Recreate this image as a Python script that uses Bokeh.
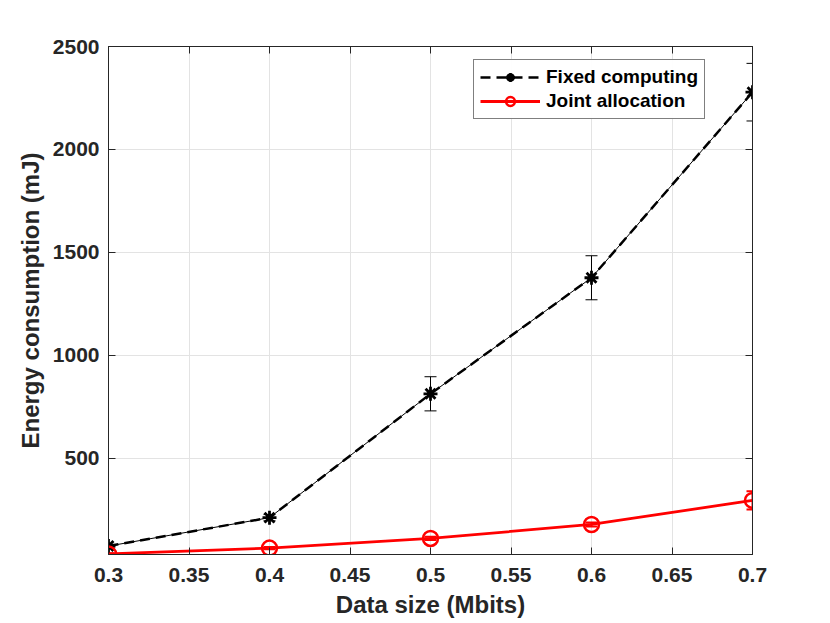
from bokeh.plotting import figure
from bokeh.models import (Range1d, LinearAxis, FixedTicker, Whisker, ColumnDataSource,
                          Legend, LegendItem, TeeHead)
from bokeh.embed import file_html
from bokeh.resources import INLINE

# ---- data ----
data_size = [0.3, 0.4, 0.5, 0.6, 0.7]
fixed_energy = [72, 210, 812, 1376, 2278]
fixed_err = [8, 15, 83, 107, 140]
joint_energy = [34, 62, 109, 177, 294]
joint_err = [3, 5, 8, 10, 44]
x_ticks = [0.3, 0.35, 0.4, 0.45, 0.5, 0.55, 0.6, 0.65, 0.7]
y_ticks = [500, 1000, 1500, 2000, 2500]
series_names = ["Fixed computing", "Joint allocation"]
x_title = "Data size (Mbits)"
y_title = "Energy consumption (mJ)"

FONT = "Liberation Sans"
AX = "#262626"

p = figure(frame_width=644, frame_height=508,
           min_border_left=108, min_border_right=70, min_border_top=46, min_border_bottom=69,
           x_range=Range1d(0.3, 0.7), y_range=Range1d(31, 2500),
           output_backend="svg", toolbar_location=None)
p.outline_line_color = AX
p.outline_line_width = 1

for ax in (p.xaxis[0], p.yaxis[0]):
    ax.axis_line_color = AX
    ax.major_tick_line_color = AX
    ax.major_tick_in = 7
    ax.major_tick_out = 0
    ax.minor_tick_line_color = None
    ax.major_label_text_font = FONT
    ax.major_label_text_font_style = "bold"
    ax.major_label_text_font_size = "21px"
    ax.major_label_text_color = AX
    ax.axis_label_text_font = FONT
    ax.axis_label_text_font_style = "bold"
    ax.axis_label_text_font_size = "24px"
    ax.axis_label_text_color = AX

p.xaxis.ticker = FixedTicker(ticks=x_ticks)
p.xaxis.major_label_overrides = {t: f"{t:g}" for t in x_ticks}
p.xaxis.major_label_standoff = 13
p.xaxis.axis_label = x_title
p.xaxis.axis_label_standoff = 6

p.yaxis.ticker = FixedTicker(ticks=y_ticks)
p.yaxis.major_label_standoff = 9
p.yaxis.axis_label = y_title
p.yaxis.axis_label_standoff = 6

for loc in ("above", "right"):
    ticks = x_ticks if loc == "above" else y_ticks
    a = LinearAxis(ticker=FixedTicker(ticks=ticks), axis_line_color=AX,
                   major_tick_line_color=AX, major_tick_in=7, major_tick_out=0,
                   minor_tick_line_color=None, major_label_text_font_size="0px",
                   major_label_text_color=None, major_label_standoff=0)
    p.add_layout(a, loc)

p.xgrid.grid_line_color = "#e3e3e3"
p.ygrid.grid_line_color = "#e3e3e3"

# ---- fixed computing ----
fsrc = ColumnDataSource(dict(x=data_size, y=fixed_energy,
                             lo=[v - e for v, e in zip(fixed_energy, fixed_err)],
                             hi=[v + e for v, e in zip(fixed_energy, fixed_err)]))
p.line("x", "y", source=fsrc, line_color="black", line_width=1)
fw = Whisker(base="x", lower="lo", upper="hi", source=fsrc, line_color="black", line_width=1,
             upper_head=TeeHead(size=12, line_color="black", line_width=1),
             lower_head=TeeHead(size=12, line_color="black", line_width=1))
p.add_layout(fw)
f_dash = p.line("x", "y", source=fsrc, line_color="black", line_width=2.5, line_dash="10 6")
f_mark = p.scatter("x", "y", source=fsrc, marker="asterisk", size=14, line_color="black",
                   line_width=2.8)

# ---- joint allocation ----
jsrc = ColumnDataSource(dict(x=data_size, y=joint_energy,
                             lo=[v - e for v, e in zip(joint_energy, joint_err)],
                             hi=[v + e for v, e in zip(joint_energy, joint_err)]))
jw = Whisker(base="x", lower="lo", upper="hi", source=jsrc, line_color="red", line_width=2,
             upper_head=TeeHead(size=12, line_color="red", line_width=2),
             lower_head=TeeHead(size=12, line_color="red", line_width=2))
p.add_layout(jw)
j_line = p.line("x", "y", source=jsrc, line_color="red", line_width=2.8)
j_mark = p.scatter("x", "y", source=jsrc, marker="circle", size=15, fill_color=None,
                   line_color="red", line_width=2.5)

legend = Legend(items=[LegendItem(label=series_names[0], renderers=[f_dash, f_mark]),
                       LegendItem(label=series_names[1], renderers=[j_line, j_mark])],
                location=(365, 435))
legend.label_text_font = FONT
legend.label_text_font_style = "bold"
legend.label_text_font_size = "19px"
legend.label_text_color = "black"
legend.border_line_color = "black"
legend.border_line_width = 1
legend.glyph_width = 60
legend.glyph_height = 22
legend.label_height = 22
legend.label_standoff = 6
legend.padding = 6
legend.spacing = 2
legend.margin = 0
p.add_layout(legend)

open("out.html", "w").write(file_html(p, INLINE))
